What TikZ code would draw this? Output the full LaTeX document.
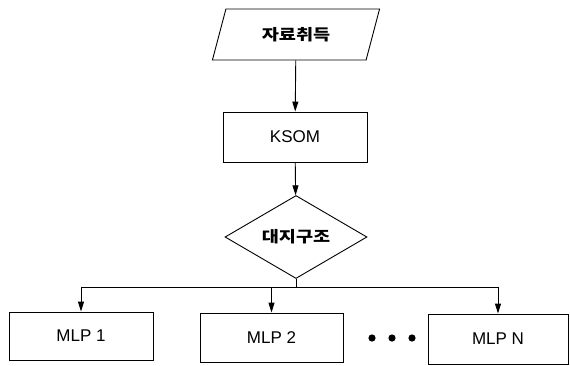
\documentclass[tikz,border=0pt]{standalone}
\usepackage{fontspec}
\setmainfont{Liberation Sans}
\newfontfamily\kr[FakeStretch=1.2]{Noto Sans CJK KR}
\usetikzlibrary{shapes.geometric,arrows.meta}
\begin{document}
\begin{tikzpicture}[x=1pt,y=-1pt,
  every node/.style={font=\fontsize{17}{20}\selectfont},
  box/.style={draw,line width=0.9pt,inner sep=0pt,minimum width=#1,minimum height=49pt},
  para/.style={draw,line width=0.9pt,trapezium,trapezium left angle=65.7,trapezium right angle=114.3,
    trapezium stretches=true,minimum width=168pt,minimum height=51pt,inner sep=0pt},
  dia/.style={draw,line width=0.9pt,diamond,minimum width=142pt,minimum height=50pt,inner sep=0pt},
  conn/.style={line width=0.9pt,-{Triangle[length=10pt,width=6pt]}},
  line/.style={line width=0.9pt}]
\useasboundingbox (0,0) rectangle (570,365);
\node[para] (acq) at (296,34.5) {\kr\fontsize{15.5}{18}\selectfont\bfseries 자료취득};
\node[box=144pt,minimum height=50pt] (ksom) at (295,137) {KSOM};
\node[dia] (map) at (296,237) {\kr\fontsize{15.5}{18}\selectfont\bfseries 대지구조};
\node[box=144pt,minimum height=48pt] (mlp1) at (81,336) {MLP 1};
\node[box=143pt] (mlp2) at (271.5,337.5) {MLP 2};
\node[box=140pt,minimum height=50pt] (mlpn) at (498,339) {MLP N};
\coordinate (split) at (296,287);
\draw[conn] (acq) -- (ksom);
\draw[conn] (ksom) -- (map);
\draw[line] (map.south) -- (split);
\draw[conn] (split) -| (mlp1.north);
\draw[conn] (split) -| (mlpn.north);
\draw[conn] (mlp2.north |- split) -- (mlp2.north);
\fill (372,338) circle (3.6pt) (392,338) circle (3.6pt) (412,338) circle (3.6pt);
\end{tikzpicture}
\end{document}
